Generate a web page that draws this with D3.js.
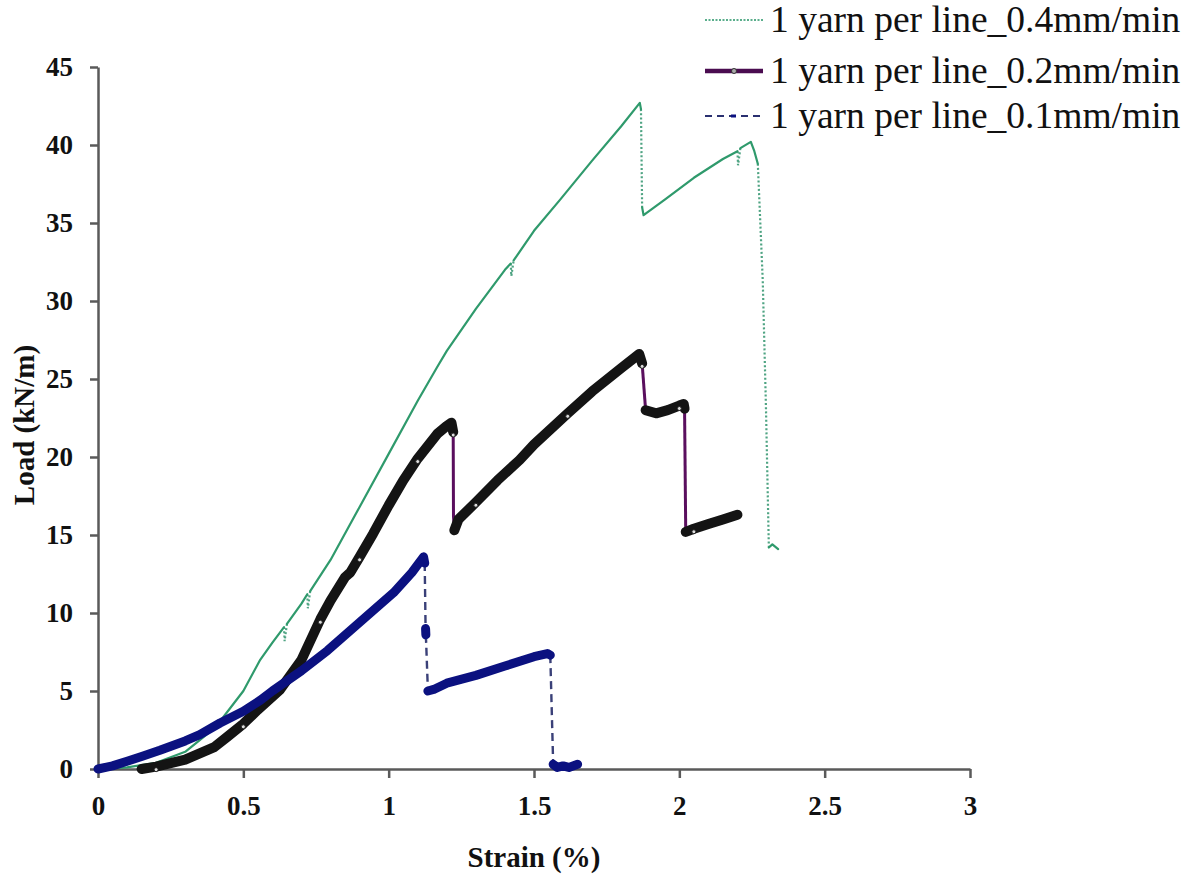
<!DOCTYPE html>
<html>
<head>
<meta charset="utf-8">
<script src="https://cdn.jsdelivr.net/npm/d3@7"></script>
<style>
  body { margin: 0; background: #fff; }
  text { font-family: "Liberation Serif", "Times New Roman", serif; }
</style>
</head>
<body>
<svg id="chart"></svg>
<script>
// tick labels
const xTicks = [0, 0.5, 1, 1.5, 2, 2.5, 3];
const yTicks = [0, 5, 10, 15, 20, 25, 30, 35, 40, 45];

const seriesNames = ["1 yarn per line_0.4mm/min", "1 yarn per line_0.2mm/min", "1 yarn per line_0.1mm/min"];

// 0.4 mm/min (green)
const strain04 = [0, 0.1, 0.2, 0.3, 0.4, 0.43, 0.5, 0.558, 0.6, 0.64, 0.642, 0.65, 0.7, 0.72, 0.722, 0.73, 0.8, 0.9, 1.0, 1.1, 1.168, 1.2, 1.3, 1.4, 1.42, 1.422, 1.43, 1.5, 1.59, 1.7, 1.8, 1.864, 1.868, 1.872, 1.877, 1.95, 2.05, 2.15, 2.2, 2.202, 2.21, 2.246, 2.258, 2.27, 2.287, 2.298, 2.308, 2.32, 2.34];
const load04   = [0, 0.1, 0.4, 1.1, 2.6, 3.3, 5.0, 7.0, 8.1, 9.1, 8.2, 9.3, 10.6, 11.2, 10.3, 11.4, 13.4, 16.8, 20.2, 23.6, 25.8, 26.8, 29.5, 32.0, 32.4, 31.6, 32.6, 34.5, 36.5, 39.0, 41.2, 42.7, 42.3, 36.0, 35.5, 36.5, 37.9, 39.1, 39.6, 38.7, 39.8, 40.2, 39.6, 38.8, 31.3, 23.2, 14.2, 14.4, 14.1];

// 0.2 mm/min (black markers, purple line)
const strain02 = [0.15, 0.2, 0.3, 0.4, 0.444, 0.5, 0.55, 0.627, 0.7, 0.765, 0.8, 0.85, 0.868, 0.9, 0.947, 1.0, 1.05, 1.1, 1.168, 1.2, 1.216, 1.222, 1.223, 1.226, 1.24, 1.3, 1.374, 1.45, 1.5, 1.616, 1.7, 1.8, 1.862, 1.872, 1.884, 1.92, 1.96, 2.0, 2.015, 2.018, 2.022, 2.05, 2.1, 2.15, 2.2];
const load02   = [0, 0.15, 0.6, 1.4, 2.05, 2.9, 3.8, 5.1, 7.0, 9.6, 10.8, 12.3, 12.6, 13.6, 15.1, 16.9, 18.5, 19.9, 21.5, 22.0, 22.2, 21.6, 16.2, 15.3, 16.0, 17.1, 18.5, 19.8, 20.8, 22.8, 24.2, 25.7, 26.6, 26.0, 23.0, 22.8, 23.0, 23.3, 23.4, 23.1, 15.2, 15.4, 15.7, 16.0, 16.3];

// 0.1 mm/min (navy)
const strain01 = [0, 0.05, 0.1, 0.15, 0.213, 0.3, 0.35, 0.42, 0.5, 0.558, 0.6, 0.7, 0.79, 0.9, 1.017, 1.08, 1.12, 1.124, 1.127, 1.128, 1.135, 1.155, 1.2, 1.3, 1.4, 1.5, 1.546, 1.556, 1.566, 1.58, 1.6, 1.62, 1.65];
const load01   = [0, 0.2, 0.5, 0.8, 1.2, 1.8, 2.2, 2.95, 3.7, 4.4, 5.0, 6.3, 7.6, 9.4, 11.3, 12.6, 13.6, 13.2, 9.0, 8.6, 5.0, 5.1, 5.5, 6.0, 6.6, 7.2, 7.4, 7.3, 0.3, 0.1, 0.2, 0.1, 0.3];

const W = 1193, H = 875;
const svg = d3.select("#chart").attr("width", W).attr("height", H);

const x = d3.scaleLinear().domain([0, 3]).range([98, 970]);
const y = d3.scaleLinear().domain([0, 45]).range([769, 67]);

const axisColor = "#5a5a5a";

// axes
const xAxis = svg.append("g")
  .attr("transform", `translate(0,${y(0)})`)
  .call(d3.axisBottom(x).tickValues(xTicks).tickSize(9).tickSizeOuter(0).tickPadding(18)
        .tickFormat(d => d));
const yAxis = svg.append("g")
  .attr("transform", `translate(${x(0)},0)`)
  .call(d3.axisLeft(y).tickValues(yTicks).tickSize(8).tickSizeOuter(0).tickPadding(17));

[xAxis, yAxis].forEach(a => {
  a.select(".domain").attr("stroke", axisColor).attr("stroke-width", 2.5);
  a.selectAll(".tick line").attr("stroke", axisColor).attr("stroke-width", 2.5);
  a.selectAll(".tick text")
    .attr("fill", "#111")
    .style("font-family", "'Liberation Serif', serif")
    .style("font-weight", "bold")
    .style("font-size", "27px");
});

svg.append("text")
  .attr("x", 534).attr("y", 867)
  .attr("text-anchor", "middle")
  .style("font-weight", "bold").style("font-size", "29px")
  .attr("fill", "#111")
  .text("Strain (%)");

svg.append("text")
  .attr("transform", "translate(34,425) rotate(-90)")
  .attr("text-anchor", "middle")
  .style("font-weight", "bold").style("font-size", "29px")
  .attr("fill", "#111")
  .text("Load (kN/m)");

// split a series into runs of "curve" segments and "jump" (near-vertical) segments
function runs(xs, ys) {
  const pts = xs.map((v, i) => [x(v), y(ys[i])]);
  const out = [];
  let cur = null;
  for (let i = 1; i < pts.length; i++) {
    const dx = Math.abs(pts[i][0] - pts[i - 1][0]);
    const dy = Math.abs(pts[i][1] - pts[i - 1][1]);
    const jump = dy > 4 * dx && dy > 12;
    if (!cur || cur.jump !== jump) {
      cur = {jump: jump, pts: [pts[i - 1]]};
      out.push(cur);
    }
    cur.pts.push(pts[i]);
  }
  return out;
}

const line = d3.line();

function drawSeries(xs, ys, curveStyle, jumpStyle) {
  const g = svg.append("g");
  const r = runs(xs, ys);
  // jumps under the bands
  r.filter(d => d.jump).forEach(d => {
    g.append("path").attr("d", line(d.pts)).attr("fill", "none")
      .attr("stroke", jumpStyle.color).attr("stroke-width", jumpStyle.width)
      .attr("stroke-dasharray", jumpStyle.dash || null);
  });
  r.filter(d => !d.jump).forEach(d => {
    g.append("path").attr("d", line(d.pts)).attr("fill", "none")
      .attr("stroke", curveStyle.color).attr("stroke-width", curveStyle.width)
      .attr("stroke-linejoin", "round").attr("stroke-linecap", "round");
  });
  return g;
}

// green
drawSeries(strain04, load04, {color: "#2f9a6c", width: 2.2}, {color: "#4fa483", width: 2.2, dash: "2,2.2"});
// black/purple
const g02 = drawSeries(strain02, load02, {color: "#141414", width: 10}, {color: "#5a0f5e", width: 3});
// a few hollow markers on the band edges
g02.selectAll("circle.mk")
  .data(strain02.map((v, i) => [v, load02[i]]).filter((d, i) => i % 4 === 1))
  .enter().append("circle")
  .attr("cx", d => x(d[0])).attr("cy", d => y(d[1]) + 3)
  .attr("r", 2).attr("fill", "#ddd").attr("stroke", "#222").attr("stroke-width", 1);
// navy
drawSeries(strain01, load01, {color: "#0b1180", width: 9}, {color: "#3a4078", width: 2.4, dash: "8,5"});

// legend
const legendY = [20, 71, 116];
const lg = svg.append("g");
lg.append("line").attr("x1", 705).attr("x2", 763).attr("y1", legendY[0]).attr("y2", legendY[0])
  .attr("stroke", "#5aae8c").attr("stroke-width", 2).attr("stroke-dasharray", "2,1.5");
lg.append("line").attr("x1", 705).attr("x2", 763).attr("y1", legendY[1]).attr("y2", legendY[1])
  .attr("stroke", "#4a0c50").attr("stroke-width", 4.5);
lg.append("circle").attr("cx", 734).attr("cy", legendY[1]).attr("r", 2.5)
  .attr("fill", "#aaa").attr("stroke", "#333").attr("stroke-width", 1);
lg.append("line").attr("x1", 705).attr("x2", 763).attr("y1", legendY[2]).attr("y2", legendY[2])
  .attr("stroke", "#2a3070").attr("stroke-width", 2).attr("stroke-dasharray", "7,5");
lg.append("rect").attr("x", 731).attr("y", legendY[2] - 1.5).attr("width", 5).attr("height", 3).attr("fill", "#0b1180");

lg.selectAll("text.leg").data(seriesNames).enter().append("text")
  .attr("class", "leg")
  .attr("x", 770).attr("y", (d, i) => legendY[i])
  .attr("dy", "0.32em")
  .style("font-size", "37.5px")
  .attr("fill", "#111")
  .text(d => d);
</script>
</body>
</html>
